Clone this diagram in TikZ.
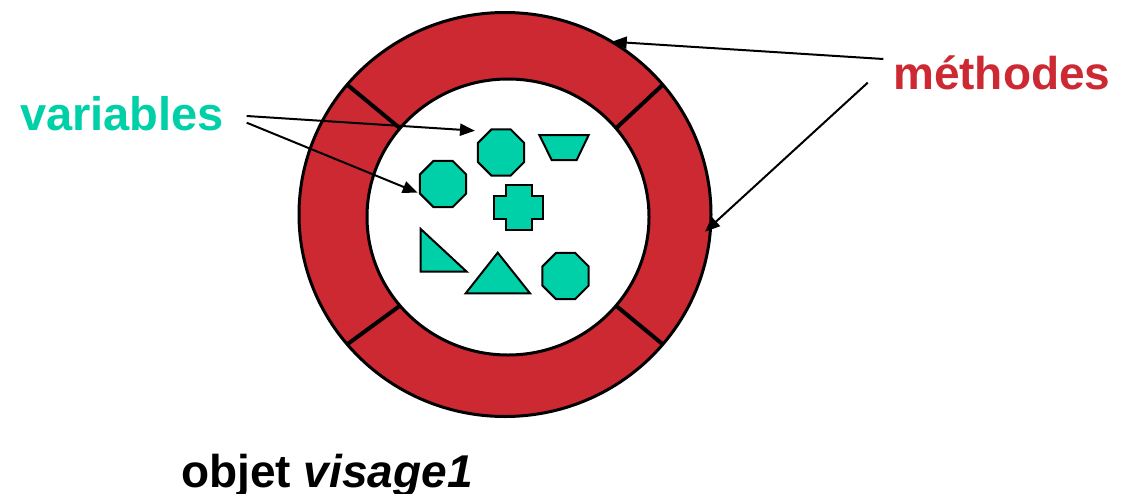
\documentclass[tikz,border=0pt]{standalone}
\usepackage{fontspec}
\setmainfont{Liberation Sans}
\usetikzlibrary{arrows.meta,shapes.geometric}
\definecolor{ringred}{RGB}{204,41,51}
\definecolor{varteal}{RGB}{0,208,168}
\begin{document}
\begin{tikzpicture}[x=1pt,y=-1pt,
  outline/.style={draw=black,line width=3pt},
  divider/.style={draw=black,line width=4pt},
  piece/.style={draw=black,line width=2pt,fill=varteal,line join=miter},
  octa/.style={piece,regular polygon,regular polygon sides=8,minimum size=50pt,inner sep=0pt},
  pointer/.style={draw=black,line width=2pt,-{Triangle[length=15pt,width=12pt]}},
  label/.style={inner sep=0pt,anchor=base west,font=\bfseries\fontsize{46}{55}\selectfont}]
\useasboundingbox (0,0) rectangle (1135,493);

% the object: methods ring around the variables core
\coordinate (co) at (505,214.5);
\coordinate (ci) at (508,217);
\path[outline,fill=ringred] (co) ellipse [x radius=206pt,y radius=202pt];
\path[outline,fill=white] (ci) ellipse [x radius=141pt,y radius=138pt];
\foreach \a in {40,140,220,320}
  \draw[divider] ([shift={(\a:141pt and 138pt)}]ci) -- ([shift={(\a:206pt and 202pt)}]co);

% variables
\node[octa] (oct1) at (501,152.5) {};
\node[octa] (oct2) at (443,184) {};
\node[octa] (oct3) at (565.5,276) {};
\path[piece] (539.3,135) -- (588.7,135) -- (576.7,160) -- (551.7,160) -- cycle;
\path[piece] (505.7,185) -- (531.7,185) -- (531.7,196) -- (543.3,196) -- (543.3,219.3)
  -- (531.7,219.3) -- (531.7,230) -- (505.7,230) -- (505.7,219.3) -- (494.3,219.3)
  -- (494.3,196) -- (505.7,196) -- cycle;
\path[piece] (420.7,229) -- (420.7,271.7) -- (466.7,271.7) -- cycle;
\path[piece] (497.7,252.7) -- (530,293.3) -- (465.7,293.3) -- cycle;

% labels
\node[label,text=varteal,font=\bfseries\fontsize{47}{56}\selectfont] (vars) at (20,130) {variables};
\node[label,text=ringred] (meth) at (893,89) {méthodes};
\node[label,text=black] (obj) at (181,487) {objet \textit{visage1}};

% pointers
\coordinate (vsrcA) at (246.7,116);
\coordinate (vsrcB) at (246.7,122.7);
\coordinate (vtipA) at (475,130.7);
\coordinate (vtipB) at (417.7,192.7);
\coordinate (msrcA) at (883.3,59);
\coordinate (msrcB) at (867.7,82.7);
\coordinate (mtipA) at (611.7,41.7);
\coordinate (mtipB) at (705,231.7);
\draw[pointer] (vsrcA) -- (vtipA);
\draw[pointer] (vsrcB) -- (vtipB);
\draw[pointer] (msrcA) -- (mtipA);
\draw[pointer] (msrcB) -- (mtipB);
\end{tikzpicture}
\end{document}
